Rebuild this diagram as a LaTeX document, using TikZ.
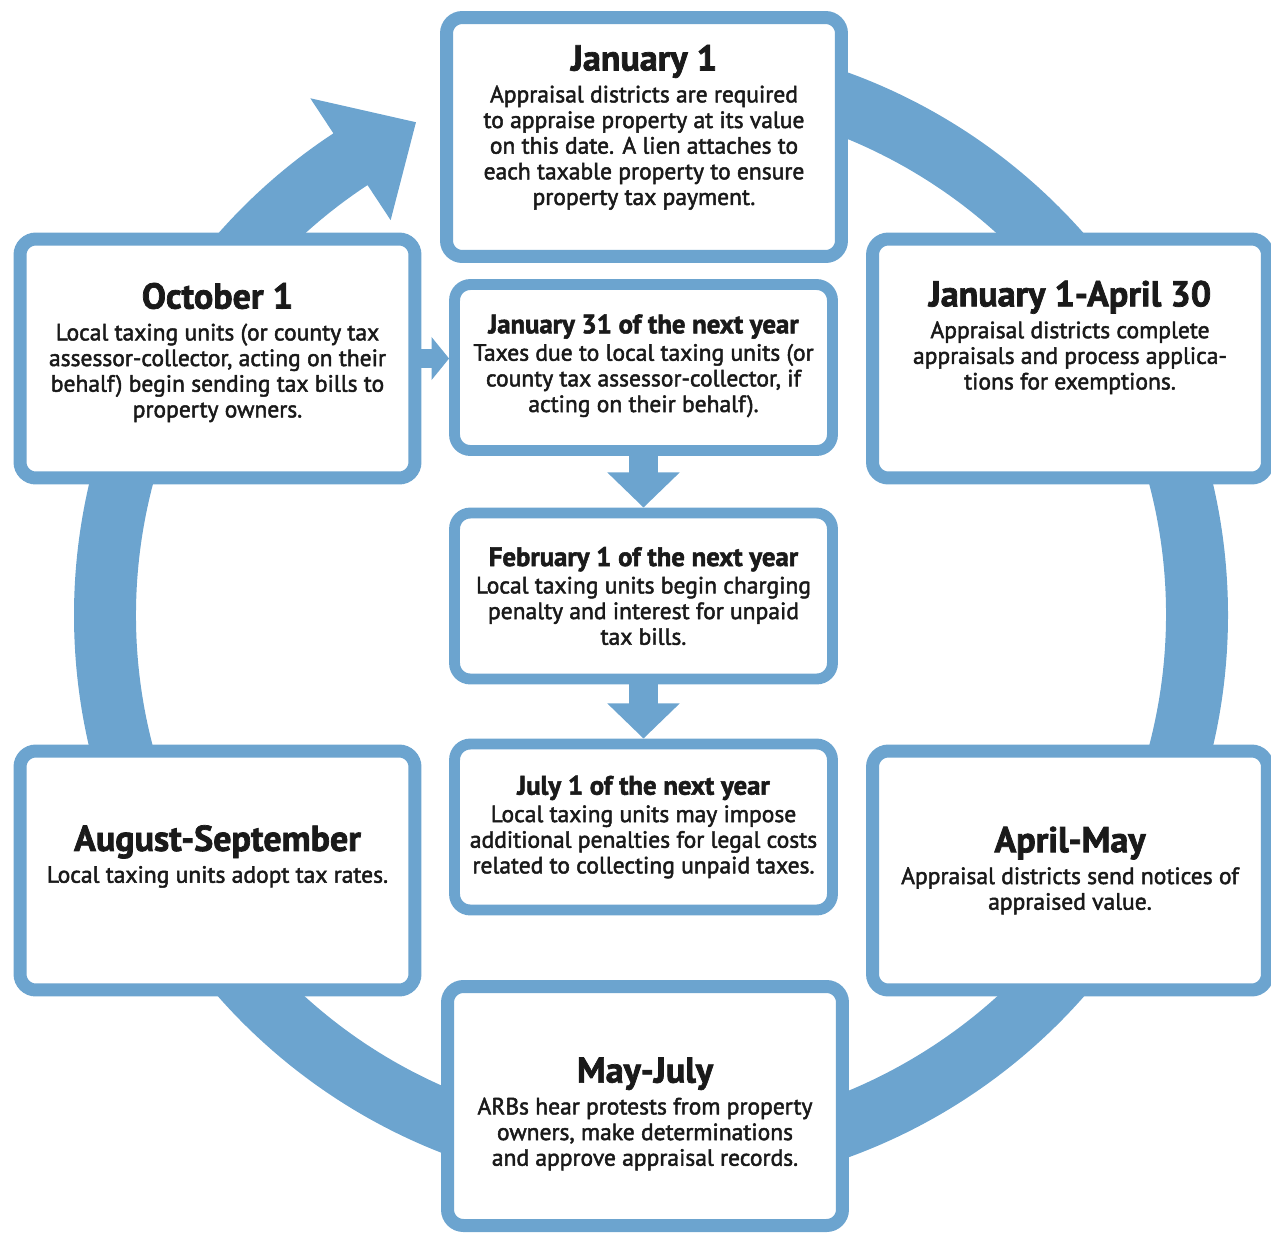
\documentclass[tikz,border=0pt]{standalone}
\usepackage{fontspec}
\setmainfont{PT Sans}
\newfontfamily\bodyfont{PT Sans}[FakeBold=2]
\usetikzlibrary{arrows.meta}

\definecolor{ringblue}{RGB}{108,164,207}
\definecolor{inkblack}{RGB}{26,26,26}

\newcommand{\bighead}[1]{{\bfseries\fontsize{20.5}{22}\selectfont #1}}
\newcommand{\smallhead}[1]{{\bfseries\fontsize{15.2}{16}\selectfont #1}}

\tikzset{
  box/.style={draw=ringblue, fill=white, rounded corners=9pt, inner sep=0pt},
  bigbox/.style={box, line width=7.4pt, minimum width=7.9cm, minimum height=4.78cm},
  smallbox/.style={box, line width=6.2pt, minimum width=7.56cm, minimum height=3.32cm},
  txt/.style={align=center, text=inkblack, inner sep=0pt, font=\bodyfont\fontsize{13.4}{14.6}\selectfont},
  sidearrow/.style={ringblue, line width=11pt, -{Triangle[width=24pt,length=10pt]}},
  downarrow/.style={ringblue, line width=16pt, -{Triangle[width=40pt,length=20pt]}}
}

\begin{document}
\begin{tikzpicture}[x=0.02cm, y=-0.02cm]
  \useasboundingbox (0,0) rectangle (1271,1232);

  % the yearly cycle
  \begin{scope}[shift={(651,615)}]
    \fill[ringblue] (-90:577) arc[start angle=-90, end angle=236.6, radius=577]
      -- (236.6:619) -- (244.5:546) -- (236.6:473) -- (236.6:515)
      arc[start angle=236.6, end angle=-90, radius=515] -- cycle;
  \end{scope}

  % outer boxes
  \node[bigbox] (jan1) at (644,137) {};
  \node[bigbox] (janapr) at (1070,358.5) {};
  \node[bigbox] (aprmay) at (1070,870.5) {};
  \node[bigbox] (mayjuly) at (645,1106) {};
  \node[bigbox] (augsep) at (217.5,870.5) {};
  \node[bigbox] (oct1) at (217.5,358.5) {};

  % inner boxes
  \node[smallbox] (jan31) at (643.5,367.5) {};
  \node[smallbox] (feb1) at (643.5,596) {};
  \node[smallbox] (jul1) at (643.5,827) {};

  \draw[sidearrow] (oct1.east) -- (oct1.east -| jan31.west);
  \draw[downarrow] (jan31.south) -- (feb1.north);
  \draw[downarrow] (feb1.south) -- (jul1.north);

  % texts
  \node[txt] (jan1-txt) at ([yshift=5.5pt]jan1.center) {\bighead{January 1}\\[3.5pt]
    Appraisal districts are required\\ to appraise property at its value\\
    on this date. A lien attaches to\\ each taxable property to ensure\\ property tax payment.};
  \node[txt] (janapr-txt) at ([yshift=12pt]janapr.center) {\bighead{January 1-April 30}\\[3.5pt]
    Appraisal districts complete\\ appraisals and process applica-\\ tions for exemptions.};
  \node[txt] (aprmay-txt) at (aprmay.center) {\bighead{April-May}\\[3.5pt]
    Appraisal districts send notices of\\ appraised value.};
  \node[txt] (mayjuly-txt) at ([yshift=-4.5pt]mayjuly.center) {\bighead{May-July}\\[3.5pt]
    ARBs hear protests from property\\ owners, make determinations\\ and approve appraisal records.};
  \node[txt] (augsep-txt) at ([yshift=8pt]augsep.center) {\bighead{August-September}\\[3.5pt]
    Local taxing units adopt tax rates.};
  \node[txt] (oct1-txt) at ([yshift=3.4pt]oct1.center) {\bighead{October 1}\\[3.5pt]
    Local taxing units (or county tax\\ assessor-collector, acting on their\\
    behalf) begin sending tax bills to\\ property owners.};
  \node[txt] (jan31-txt) at ([yshift=1pt]jan31.center) {\smallhead{January 31 of the next year}\\[1pt]
    Taxes due to local taxing units (or\\ county tax assessor-collector, if\\ acting on their behalf).};
  \node[txt] (feb1-txt) at (feb1.center) {\smallhead{February 1 of the next year}\\[1pt]
    Local taxing units begin charging\\ penalty and interest for unpaid\\ tax bills.};
  \node[txt] (jul1-txt) at (jul1.center) {\smallhead{July 1 of the next year}\\[1pt]
    Local taxing units may impose\\ additional penalties for legal costs\\ related to collecting unpaid taxes.};
\end{tikzpicture}
\end{document}
